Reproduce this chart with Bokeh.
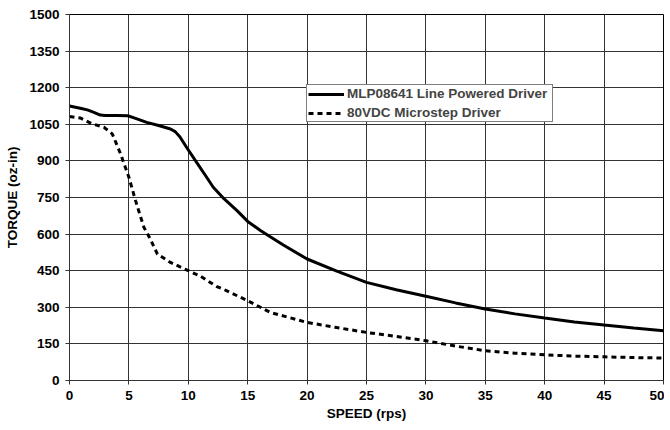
from bokeh.plotting import figure
from bokeh.models import Legend, LegendItem, FixedTicker, Range1d
from bokeh.embed import file_html
from bokeh.resources import INLINE

# Data
speed_mlp = [0, 0.5, 1, 1.5, 2, 2.6, 3, 4, 4.9, 5.5, 6.5, 7.5, 8.5, 8.9, 9.3, 9.85, 10.7, 11.6,
             12.1, 13, 14.1, 15, 16.1, 18, 20, 22.5, 25, 27.5, 30, 32.5, 35, 37.5, 40,
             42.5, 45, 47.5, 50]
torque_mlp = [1125, 1120, 1115, 1109, 1100, 1088, 1086, 1086, 1085, 1075, 1058, 1045, 1031,
              1020, 998, 956, 894, 829, 792, 745, 696, 652, 614, 555, 498, 448, 402, 372, 345,
              318, 293, 273, 256, 240, 227, 215, 204]

speed_vdc = [0, 0.9, 1.9, 2.9, 3.6, 4.3, 5.0, 5.56, 6.26, 6.8, 7.4, 8.5, 10, 11, 12.4, 13,
             15, 16.9, 20, 22.5, 25, 27.5, 30, 32.5, 35, 37.5, 40, 42.5, 45, 47.5, 50]
torque_vdc = [1082, 1076, 1052, 1038, 1011, 929, 833, 737, 628, 580, 518, 484, 450, 428, 385,
              373, 327, 279, 238, 217, 197, 181, 163, 141, 122, 112, 105, 100, 97, 94, 92]

x_ticks = [0, 5, 10, 15, 20, 25, 30, 35, 40, 45, 50]
y_ticks = [0, 150, 300, 450, 600, 750, 900, 1050, 1200, 1350, 1500]

series_names = ["MLP08641 Line Powered Driver", "80VDC Microstep Driver"]

FONT = "Liberation Sans"
FSIZE = "13.5px"

p = figure(width=664, height=430, output_backend="svg", toolbar_location=None,
           x_range=Range1d(0, 50), y_range=Range1d(0, 1500),
           min_border_left=69, min_border_right=1, min_border_top=14, min_border_bottom=50)

p.background_fill_color = "white"
p.outline_line_color = "black"
p.outline_line_width = 1

for ax in (p.xaxis, p.yaxis):
    ax.major_label_text_font = FONT
    ax.major_label_text_font_size = FSIZE
    ax.major_label_text_font_style = "bold"
    ax.major_label_text_color = "black"
    ax.axis_label_text_font = FONT
    ax.axis_label_text_font_size = FSIZE
    ax.axis_label_text_font_style = "bold"
    ax.axis_label_text_color = "black"
    ax.minor_tick_line_color = None
    ax.major_tick_in = 0
    ax.major_tick_out = 4
    ax.major_tick_line_color = "#333333"
    ax.axis_line_color = "#333333"

p.xaxis.ticker = FixedTicker(ticks=x_ticks)
p.yaxis.ticker = FixedTicker(ticks=y_ticks)
p.xaxis.axis_label = "SPEED (rps)"
p.yaxis.axis_label = "TORQUE (oz-in)"
p.xaxis.major_label_standoff = 6
p.yaxis.major_label_standoff = 6
p.xaxis.axis_label_standoff = 3
p.yaxis.axis_label_standoff = 6

p.xgrid.ticker = FixedTicker(ticks=x_ticks)
p.ygrid.ticker = FixedTicker(ticks=y_ticks)
p.grid.grid_line_color = "#333333"
p.grid.grid_line_width = 1

r1 = p.line(speed_mlp, torque_mlp, line_color="black", line_width=3)
r2 = p.line(speed_vdc, torque_vdc, line_color="black", line_width=3, line_dash="5 4")

legend = Legend(items=[LegendItem(label=series_names[0], renderers=[r1]),
                       LegendItem(label=series_names[1], renderers=[r2])],
                location=(237, 258), margin=0, padding=1, spacing=4,
                glyph_width=36, glyph_height=14, label_height=14, label_standoff=3,
                label_width=204,
                label_text_font=FONT, label_text_font_size=FSIZE,
                label_text_font_style="bold",
                border_line_color="black", border_line_width=1,
                background_fill_color="white", background_fill_alpha=1)
p.add_layout(legend)

open("out.html", "w").write(file_html(p, INLINE))
